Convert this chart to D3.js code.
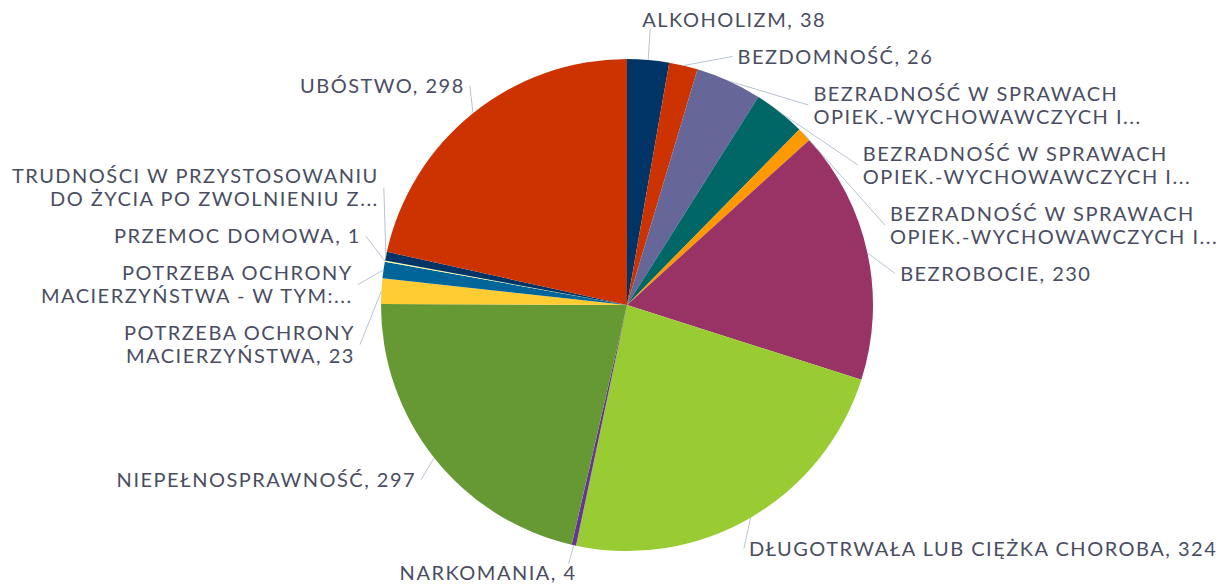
<!DOCTYPE html>
<html>
<head>
<meta charset="utf-8">
<script src="https://cdn.jsdelivr.net/npm/d3@7"></script>
<style>
  body { margin: 0; background: #fff; }
  text { font-family: Lato, "Open Sans", sans-serif; }
</style>
</head>
<body>
<svg id="chart"></svg>
<script>
var width = 1232, height = 586;

// Categories (clockwise from 12 o'clock) and their values
var categories = [
  "ALKOHOLIZM",
  "BEZDOMNOŚĆ",
  "BEZRADNOŚĆ W SPRAWACH OPIEK.-WYCHOWAWCZYCH I (1)",
  "BEZRADNOŚĆ W SPRAWACH OPIEK.-WYCHOWAWCZYCH I (2)",
  "BEZRADNOŚĆ W SPRAWACH OPIEK.-WYCHOWAWCZYCH I (3)",
  "BEZROBOCIE",
  "DŁUGOTRWAŁA LUB CIĘŻKA CHOROBA",
  "NARKOMANIA",
  "NIEPEŁNOSPRAWNOŚĆ",
  "POTRZEBA OCHRONY MACIERZYŃSTWA",
  "POTRZEBA OCHRONY MACIERZYŃSTWA - W TYM",
  "PRZEMOC DOMOWA",
  "TRUDNOŚCI W PRZYSTOSOWANIU DO ŻYCIA PO ZWOLNIENIU Z",
  "UBÓSTWO"
];
var values = [38, 26, 60, 47, 13, 230, 324, 4, 297, 23, 15, 1, 8, 298];

// Label text as displayed (line breaks as in the chart)
var labelLines = [
  ["ALKOHOLIZM, 38"],
  ["BEZDOMNOŚĆ, 26"],
  ["BEZRADNOŚĆ W SPRAWACH", "OPIEK.-WYCHOWAWCZYCH I..."],
  ["BEZRADNOŚĆ W SPRAWACH", "OPIEK.-WYCHOWAWCZYCH I..."],
  ["BEZRADNOŚĆ W SPRAWACH", "OPIEK.-WYCHOWAWCZYCH I..."],
  ["BEZROBOCIE, 230"],
  ["DŁUGOTRWAŁA LUB CIĘŻKA CHOROBA, 324"],
  ["NARKOMANIA, 4"],
  ["NIEPEŁNOSPRAWNOŚĆ, 297"],
  ["POTRZEBA OCHRONY", "MACIERZYŃSTWA, 23"],
  ["POTRZEBA OCHRONY", "MACIERZYŃSTWA - W TYM:..."],
  ["PRZEMOC DOMOWA, 1"],
  ["TRUDNOŚCI W PRZYSTOSOWANIU", "DO ŻYCIA PO ZWOLNIENIU Z..."],
  ["UBÓSTWO, 298"]
];

var colors = ["#003366", "#cc3300", "#666699", "#006666", "#ff9900", "#993366", "#99cc33",
              "#663399", "#669933", "#ffcc33", "#006699", "#ffff99", "#003366", "#cc3300"];

var data = categories.map(function (c, i) {
  return { name: c, value: values[i], lines: labelLines[i], color: colors[i] };
});

var cx = 627, cy = 305, radius = 246, labelRadius = 270;
var lineHeight = 23, pad = 14;

var svg = d3.select("#chart")
  .attr("width", width)
  .attr("height", height);

var g = svg.append("g")
  .attr("transform", "translate(" + cx + "," + cy + ")");

var pie = d3.pie().sort(null).value(function (d) { return d.value; });
var arc = d3.arc().innerRadius(0).outerRadius(radius);
var arcs = pie(data);

g.selectAll("path.slice")
  .data(arcs)
  .enter()
  .append("path")
  .attr("class", "slice")
  .attr("d", arc)
  .attr("fill", function (d) { return d.data.color; });

// Label layout: start at mid angle, then push apart on each side
var labels = arcs.map(function (d) {
  var mid = (d.startAngle + d.endAngle) / 2;
  var h = d.data.lines.length * lineHeight;
  var y = -(labelRadius + h / 2) * Math.cos(mid);
  return { d: d, mid: mid, h: h, y: y, side: mid < Math.PI ? 1 : -1 };
});

var yMin = -cy + 8, yMax = height - cy - 2;
[1, -1].forEach(function (side) {
  var items = labels.filter(function (l) { return l.side === side; });
  for (var it = 0; it < 400; it++) {
    items.sort(function (a, b) { return a.y - b.y; });
    for (var i = 0; i < items.length - 1; i++) {
      var a = items[i], b = items[i + 1];
      var overlap = (a.y + a.h / 2 + pad / 2) - (b.y - b.h / 2 - pad / 2);
      if (overlap > 0) { a.y -= overlap / 2; b.y += overlap / 2; }
    }
    items.forEach(function (l) {
      if (l.y - l.h / 2 < yMin) l.y = yMin + l.h / 2;
      if (l.y + l.h / 2 > yMax) l.y = yMax - l.h / 2;
    });
  }
});

labels.forEach(function (l) {
  if (Math.abs(l.y) < labelRadius * 0.97) {
    l.x = l.side * Math.sqrt(labelRadius * labelRadius - l.y * l.y);
    l.gap = 5;
  } else {
    // label above / below the pie: text hangs back over the line end
    l.x = l.side * Math.abs(labelRadius * Math.sin(l.mid));
    l.gap = -8;
  }
});

// Leader lines
g.selectAll("line.leader")
  .data(labels)
  .enter()
  .append("line")
  .attr("class", "leader")
  .attr("x1", function (l) { return radius * Math.sin(l.mid); })
  .attr("y1", function (l) { return -radius * Math.cos(l.mid); })
  .attr("x2", function (l) { return l.x; })
  .attr("y2", function (l) { return l.gap < 0 ? l.y + (l.y < 0 ? 9 : -9) : l.y; })
  .attr("stroke", "#b9c3d3")
  .attr("stroke-width", 1);

// Label text
var texts = g.selectAll("text.label")
  .data(labels)
  .enter()
  .append("text")
  .attr("class", "label")
  .attr("font-size", 20)
  .attr("letter-spacing", 1.5)
  .attr("fill", "#4a4d62")
  .attr("text-anchor", function (l) { return l.side > 0 ? "start" : "end"; });

texts.selectAll("tspan")
  .data(function (l) {
    return l.d.data.lines.map(function (t, i) { return { t: t, i: i, l: l }; });
  })
  .enter()
  .append("tspan")
  .attr("x", function (s) { return s.l.x + s.l.side * s.l.gap; })
  .attr("y", function (s) { return s.l.y - s.l.h / 2 + lineHeight * (s.i + 0.5); })
  .attr("dy", "0.36em")
  .text(function (s) { return s.t; });
</script>
</body>
</html>
